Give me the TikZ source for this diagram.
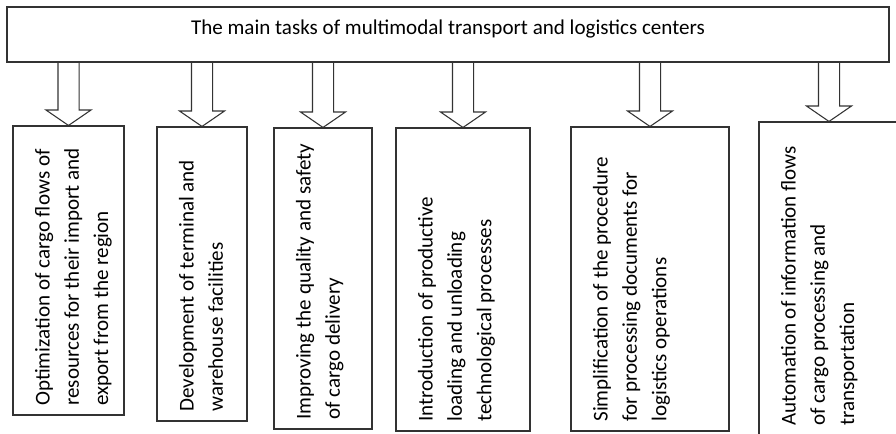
\documentclass[tikz,border=0pt]{standalone}
\usepackage{fontspec}
\setmainfont{Carlito}
\usepackage{graphicx}
\usetikzlibrary{calc}

% rotated text, set from the bottom up, top-left in its box
\newcommand{\taskbody}[3]{\rotatebox{90}{\parbox[c][\dimexpr#1-33pt\relax][t]{\dimexpr#2-14pt\relax}{\raggedright #3}}}

\begin{document}
\begin{tikzpicture}[
			x=0.75pt, y=-0.75pt,
			every node/.style={font=\fontsize{15.8}{22}\selectfont},
			header/.style={rectangle, draw=black!80, line width=0.8pt, minimum width=661.5pt, minimum height=41.25pt, inner sep=0pt, text height=11pt, text depth=10.5pt},
			task/.style={rectangle, draw=black!80, line width=0.8pt, inner xsep=16.5pt, inner ysep=7pt},
			blockarrow/.style={draw=black!80, line width=0.8pt, to path={let \p1=(\tikztostart), \p2=(\tikztotarget) in (\x1-7.9pt,\y1) -- (\x1-7.9pt,\y2+11.6pt) -- (\x1-16.9pt,\y2+11.6pt) -- (\x2,\y2) -- (\x1+16.9pt,\y2+11.6pt) -- (\x1+7.9pt,\y2+11.6pt) -- (\x1+7.9pt,\y1)}}
			]

			\useasboundingbox (0,0) rectangle (896,434);

			\node[header] (title) at (448,34.5) {The main tasks of multimodal transport and logistics centers};

			\node[task] (t1) at (68.5,270.5) {\taskbody{83.25pt}{216.75pt}{Optimization of cargo flows of\\ resources for their import and\\ export from the region}};
			\node[task] (t2) at (202,274) {\taskbody{67.5pt}{220.5pt}{Development of terminal and\\ warehouse facilities}};
			\node[task] (t3) at (323,278.5) {\taskbody{73.5pt}{225.75pt}{Improving the quality and safety\\ of cargo delivery}};
			\node[task] (t4) at (463,279.5) {\taskbody{100.5pt}{227.25pt}{Introduction of productive\\ loading and unloading\\ technological processes}};
			\node[task] (t5) at (650,279) {\taskbody{118.5pt}{228pt}{Simplification of the procedure\\ for processing documents for\\ logistics operations}};
			\node[task] (t6) at (829,278.5) {\taskbody{105pt}{234.75pt}{Automation of information flows\\ of cargo processing and\\ transportation}};

			\foreach \i in {1,...,6}
				\draw[blockarrow] (t\i.north |- title.south) to (t\i.north);

		\end{tikzpicture}
\end{document}
